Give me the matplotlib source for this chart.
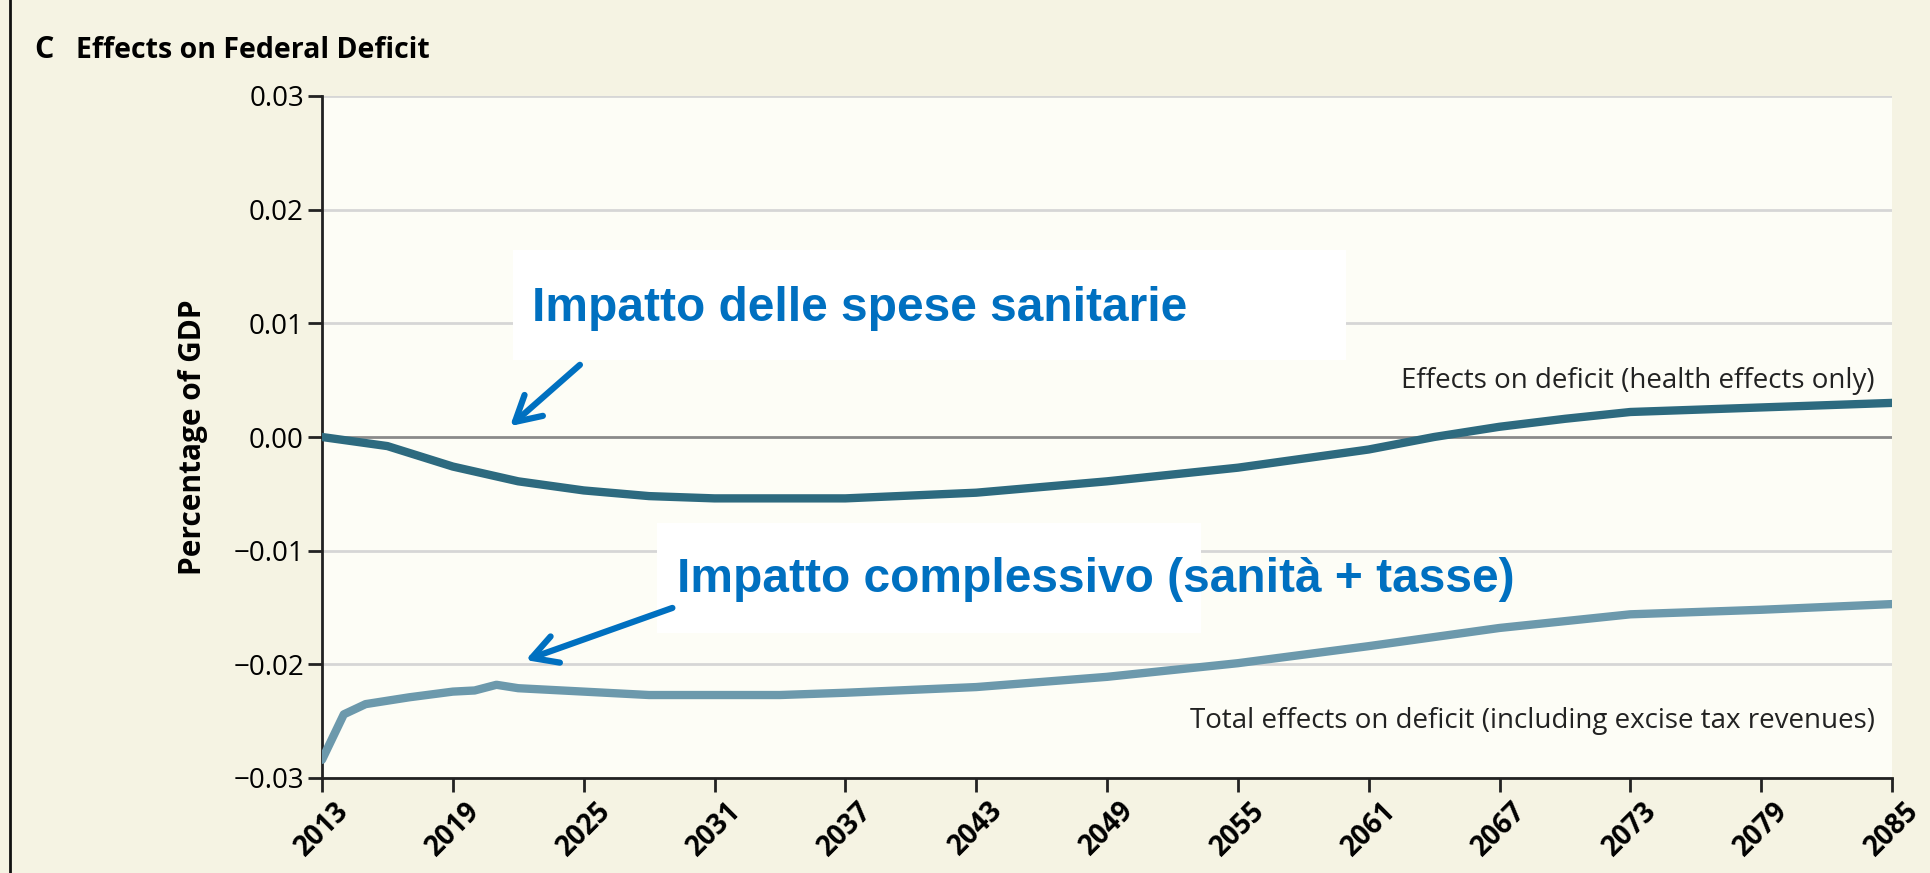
import matplotlib
matplotlib.use("Agg")
import matplotlib.pyplot as plt
from matplotlib import font_manager

def pick(cands):
    names = {f.name for f in font_manager.fontManager.ttflist}
    for c in cands:
        if c in names:
            return c
    return "DejaVu Sans"

NARROW = pick(["Liberation Sans Narrow", "Open Sans", "DejaVu Sans"])
ARIALN = pick(["Liberation Sans Narrow", "Liberation Sans", "DejaVu Sans"])

# ---- data ----
health_years = [2013, 2016, 2019, 2022, 2025, 2028, 2031, 2037, 2043, 2049, 2055, 2061, 2064, 2067, 2070, 2073, 2079, 2085]
health_vals = [0.0000, -0.0008, -0.0026, -0.0039, -0.0047, -0.0052, -0.0054, -0.0054, -0.0049, -0.0039, -0.0027, -0.0011, 0.0000, 0.0009, 0.0016, 0.0022, 0.0026, 0.0030]

total_years = [2013, 2014, 2015, 2017, 2019, 2020, 2021, 2022, 2025, 2028, 2031, 2034, 2037, 2043, 2049, 2055, 2061, 2067, 2073, 2079, 2085]
total_vals = [-0.0284, -0.0244, -0.0235, -0.0229, -0.0224, -0.0223, -0.0218, -0.0221, -0.0224, -0.0227, -0.0227, -0.0227, -0.0225, -0.0220, -0.0211, -0.0199, -0.0184, -0.0168, -0.0156, -0.0152, -0.0147]

x_ticks = list(range(2013, 2086, 6))
y_ticks = [-0.03, -0.02, -0.01, 0.00, 0.01, 0.02, 0.03]

title_letter = "C"
title_text = "Effects on Federal Deficit"
y_label = "Percentage of GDP"
health_label = "Effects on deficit (health effects only)"
total_label = "Total effects on deficit (including excise tax revenues)"
note_health = "Impatto delle spese sanitarie"
note_total = "Impatto complessivo (sanità + tasse)"

# ---- figure ----
W, H = 1930, 873
fig = plt.figure(figsize=(W / 100, H / 100), dpi=100)
fig.patch.set_facecolor("#F5F3E3")
ax = fig.add_axes([322 / W, 1 - 778 / H, (1892 - 322) / W, (778 - 96) / H])
ax.set_facecolor("#FDFDF6")

ax.set_xlim(2013, 2085)
ax.set_ylim(-0.03, 0.03)
ax.set_xticks(x_ticks)
ax.set_yticks(y_ticks)
ax.set_yticklabels([f"{v:.2f}".replace("-", "\u2212") for v in y_ticks], fontsize=20, family=NARROW)
ax.set_xticklabels([str(v) for v in x_ticks], rotation=45, ha="center", va="top",
                   fontsize=20, family=NARROW, fontweight="bold")

for s in ["top", "right"]:
    ax.spines[s].set_visible(False)
for s in ["left", "bottom"]:
    ax.spines[s].set_color("#222222")
    ax.spines[s].set_linewidth(2)
ax.tick_params(axis="both", length=10, width=2, color="#222222")
ax.tick_params(axis="y", pad=3)
ax.tick_params(axis="x", pad=3)

for v in y_ticks:
    if v == 0:
        ax.axhline(v, color="#8a8a8a", lw=2, zorder=1)
    else:
        ax.axhline(v, color="#d6d6d6", lw=2, zorder=1)

ax.plot(health_years, health_vals, color="#2D6A7F", lw=6, solid_capstyle="round", zorder=3)
ax.plot(total_years, total_vals, color="#6C99AC", lw=6, solid_capstyle="round", zorder=3)

ax.text(2084.2, 0.0037, health_label, ha="right", va="bottom", fontsize=20, family=NARROW, color="#222222")
ax.text(2084.2, -0.0250, total_label, ha="right", va="center", fontsize=20, family=NARROW, color="#222222")

ax.set_ylabel(y_label, fontsize=21.5, family=NARROW, fontweight="bold", labelpad=18)

fig.text(34 / W, 1 - 50 / H, title_letter, fontsize=22, family=NARROW, fontweight="bold", va="center")
fig.text(76 / W, 1 - 50 / H, title_text, fontsize=20.5, family=NARROW, fontweight="bold", va="center")

# left border line
fig.add_artist(plt.Line2D([10 / W, 10 / W], [0, 1], color="#111111", lw=2))

# annotation boxes
fig.patches.append(plt.Rectangle((513 / W, 1 - 360 / H), (1346 - 513) / W, (360 - 250) / H,
                                 transform=fig.transFigure, facecolor="white", edgecolor="none", zorder=5))
fig.patches.append(plt.Rectangle((657 / W, 1 - 633 / H), (1201 - 657) / W, (633 - 523) / H,
                                 transform=fig.transFigure, facecolor="white", edgecolor="none", zorder=5))
fig.text(532 / W, 1 - 308 / H, note_health, fontsize=34.5, family=ARIALN, fontweight="bold",
         color="#0070C0", va="center", zorder=6)
fig.text(677 / W, 1 - 580 / H, note_total, fontsize=34.5, family=ARIALN, fontweight="bold",
         color="#0070C0", va="center", zorder=6)

arrow_kw = dict(arrowstyle="->,head_length=0.9,head_width=0.5", color="#0070C0", lw=4.5)
fig.add_artist(matplotlib.patches.FancyArrowPatch((582 / W, 1 - 363 / H), (508 / W, 1 - 428 / H),
                                                  transform=fig.transFigure, mutation_scale=20, zorder=7, **arrow_kw))
fig.add_artist(matplotlib.patches.FancyArrowPatch((675 / W, 1 - 607 / H), (523 / W, 1 - 661 / H),
                                                  transform=fig.transFigure, mutation_scale=20, zorder=7, **arrow_kw))

fig.savefig("out.png", dpi=100, facecolor=fig.get_facecolor())
